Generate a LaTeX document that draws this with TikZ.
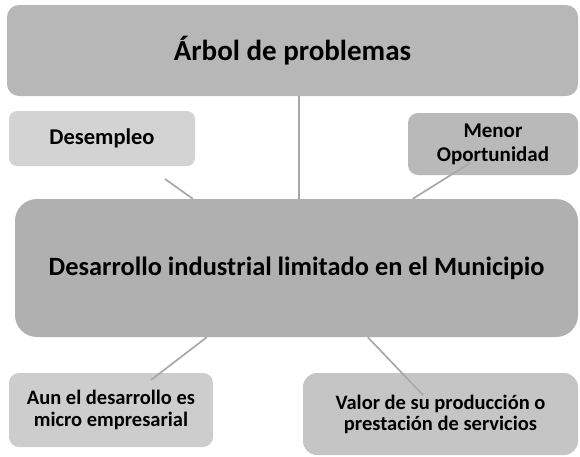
\documentclass[tikz,border=0pt]{standalone}
\usepackage{fontspec}
\setmainfont{Carlito}
\usetikzlibrary{positioning}
\definecolor{grisarbol}{RGB}{183,183,183}
\definecolor{grisclaro}{RGB}{211,211,211}
\definecolor{grismenor}{RGB}{185,185,185}
\definecolor{grisnucleo}{RGB}{176,176,176}
\definecolor{grisaun}{RGB}{205,205,205}
\definecolor{grisvalor}{RGB}{197,197,197}
\definecolor{grislinea}{RGB}{168,168,168}

\begin{document}
\begin{tikzpicture}[x=1pt,y=-1pt,
  caja/.style={rectangle,rounded corners=10pt,inner sep=0pt,align=center,text=black},
  conector/.style={draw=grislinea,line width=1.7pt}
]
\useasboundingbox (0,0) rectangle (580,456);
\node[caja,fill=grisarbol,minimum width=571pt,minimum height=91pt,rounded corners=12pt,
      font=\bfseries\fontsize{29}{33}\selectfont] (arbol) at (292.5,50.5) {Árbol de problemas};
\node[caja,fill=grisclaro,minimum width=186pt,minimum height=55pt,rounded corners=8pt,
      font=\bfseries\fontsize{22.5}{25}\selectfont] (desempleo) at (102,138.5) {Desempleo};
\node[caja,fill=grismenor,minimum width=170pt,minimum height=62pt,
      font=\bfseries\fontsize{21}{24}\selectfont] (menor) at (493,144) {Menor\\Oportunidad};
\node[caja,fill=grisnucleo,minimum width=563pt,minimum height=138pt,rounded corners=22pt,
      font=\bfseries\fontsize{26.4}{30}\selectfont] (nucleo) at (296.5,268)
      {Desarrollo industrial limitado en el Municipio};
\node[caja,fill=grisaun,minimum width=204pt,minimum height=74pt,
      font=\bfseries\fontsize{20.5}{22}\selectfont] (aun) at (111,410)
      {Aun el desarrollo es\\micro empresarial};
\node[caja,fill=grisvalor,minimum width=275pt,minimum height=82pt,rounded corners=14pt,
      font=\bfseries\fontsize{20.5}{21}\selectfont] (valor) at (440.5,414)
      {Valor de su producción o\\prestación de servicios};
% conectores
\coordinate (finDes) at (165,179);
\coordinate (finMenor) at (470,163);
\coordinate (finAun) at (151,380);
\coordinate (finValor) at (423,395);
\draw[conector] ([xshift=6.5pt]arbol.south) -- ([xshift=2.5pt]nucleo.north);
\draw[conector] (finDes) -- ([xshift=178pt]nucleo.north west);
\draw[conector] (finMenor) -- ([xshift=398pt]nucleo.north west);
\draw[conector] ([xshift=192pt]nucleo.south west) -- (finAun);
\draw[conector] ([xshift=353pt]nucleo.south west) -- (finValor);
\end{tikzpicture}
\end{document}
